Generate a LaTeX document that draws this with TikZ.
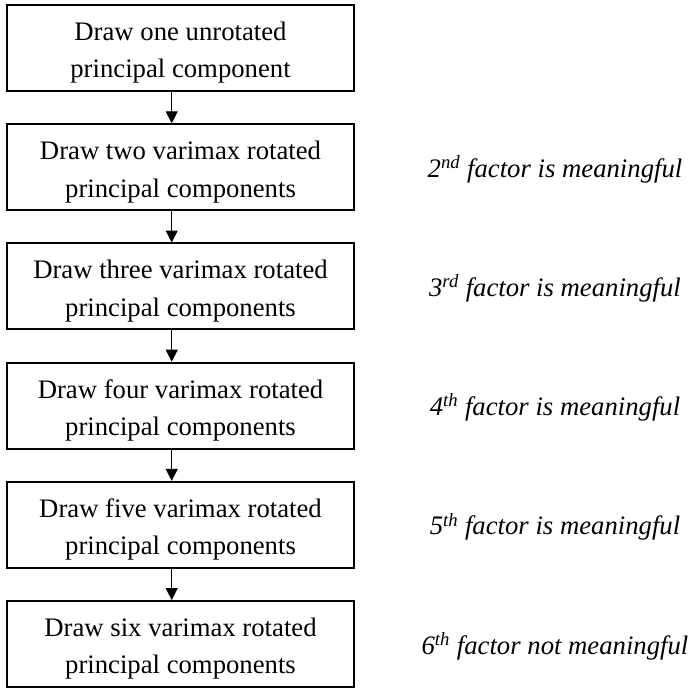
\documentclass[tikz,border=0pt]{standalone}
\usepackage{fontspec}
\setmainfont{Liberation Serif}
\usetikzlibrary{arrows.meta}

\tikzset{
  stepbox/.style={draw,line width=1.3pt,minimum width=8.675cm,minimum height=2.15cm,
    align=center,font=\fontsize{19}{26.5}\selectfont,inner sep=0pt,text height=46.5pt},
  factorlabel/.style={font=\fontsize{19}{26}\selectfont\itshape},
  flow/.style={line width=0.7pt,-{Triangle[length=8.5pt,width=8.5pt]}}
}

\begin{document}
\begin{tikzpicture}
\useasboundingbox (0,0) rectangle (17.4,-17.2);
\node[stepbox] (one) at (4.513,-1.200) {Draw one unrotated\\principal component};
\node[stepbox] (two) at (4.513,-4.180) {Draw two varimax rotated\\principal components};
\node[stepbox] (three) at (4.513,-7.160) {Draw three varimax rotated\\principal components};
\node[stepbox] (four) at (4.513,-10.140) {Draw four varimax rotated\\principal components};
\node[stepbox] (five) at (4.513,-13.120) {Draw five varimax rotated\\principal components};
\node[stepbox] (six) at (4.513,-16.100) {Draw six varimax rotated\\principal components};
\node[factorlabel] (ftwo) at (13.875,-4.230) {2\textsuperscript{nd} factor is meaningful};
\node[factorlabel] (fthree) at (13.875,-7.210) {3\textsuperscript{rd} factor is meaningful};
\node[factorlabel] (ffour) at (13.875,-10.190) {4\textsuperscript{th} factor is meaningful};
\node[factorlabel] (ffive) at (13.875,-13.170) {5\textsuperscript{th} factor is meaningful};
\node[factorlabel] (fsix) at (13.875,-16.150) {6\textsuperscript{th} factor not meaningful};
\draw[flow] ([xshift=-0.22cm]one.south) -- ([xshift=-0.22cm]two.north);
\draw[flow] ([xshift=-0.22cm]two.south) -- ([xshift=-0.22cm]three.north);
\draw[flow] ([xshift=-0.22cm]three.south) -- ([xshift=-0.22cm]four.north);
\draw[flow] ([xshift=-0.22cm]four.south) -- ([xshift=-0.22cm]five.north);
\draw[flow] ([xshift=-0.22cm]five.south) -- ([xshift=-0.22cm]six.north);
\end{tikzpicture}
\end{document}
